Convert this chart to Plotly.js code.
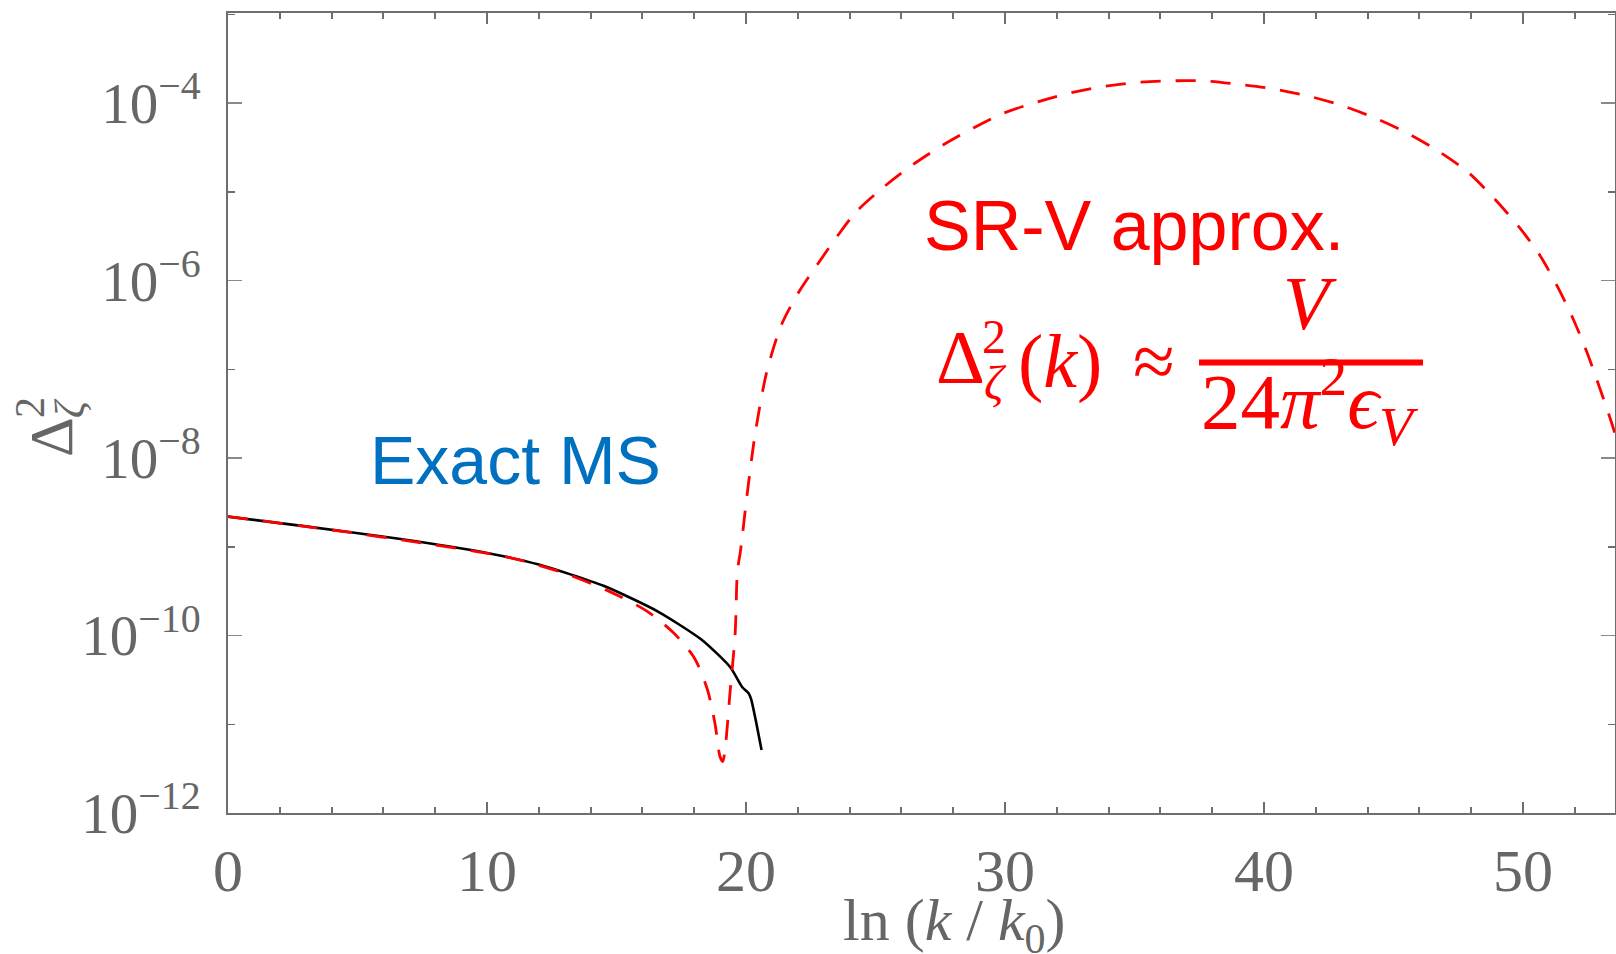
<!DOCTYPE html>
<html><head><meta charset="utf-8">
<script src="https://cdn.plot.ly/plotly-3.0.1.min.js"></script>
<style>html,body{margin:0;padding:0;background:#fff;}#chart{width:1616px;height:954px;}</style>
</head><body><div id="chart"></div>
<script>
// Exact Mukhanov-Sasaki result: ln(k/k0) and log10 of Delta_zeta^2
const lnK_exact = [0, 3, 6.6, 10, 12, 14.5, 16.6, 18.3, 19.4, 19.85, 20.1, 20.2, 20.4, 20.6];
const log10Delta_exact = [-8.66, -8.77, -8.91, -9.07, -9.20, -9.44, -9.73, -10.05, -10.36, -10.58, -10.65, -10.72, -10.99, -11.29];
// Slow-roll (V) approximation
const lnK_srv = [0, 4, 8, 11, 13, 14.7, 16.2, 17.2, 18.0, 18.5, 18.8, 19.0, 19.1, 19.2, 19.38, 19.58, 19.67, 19.79, 20.03, 20.35, 20.8, 21.38, 22.08, 22.73, 23.5, 24.27, 25.3, 26.46, 27.62, 28.78, 29.81, 30.99, 32.32, 33.65, 34.98, 36.31, 37.64, 39.04, 40.37, 41.7, 43.03, 44.29, 45.54, 46.72, 47.84, 48.9, 49.88, 50.66, 51.35, 51.93, 52.47, 52.9, 53.36, 53.59, 54.0];
const log10Delta_srv = [-8.66, -8.81, -8.98, -9.13, -9.30, -9.50, -9.73, -9.97, -10.25, -10.60, -10.99, -11.37, -11.42, -11.26, -10.65, -9.98, -9.27, -9.04, -8.44, -7.73, -7.03, -6.49, -6.11, -5.83, -5.51, -5.22, -4.95, -4.69, -4.47, -4.28, -4.13, -4.01, -3.90, -3.82, -3.77, -3.75, -3.75, -3.79, -3.84, -3.92, -4.03, -4.17, -4.34, -4.54, -4.77, -5.08, -5.41, -5.72, -6.08, -6.43, -6.81, -7.16, -7.55, -7.77, -8.30];

const xTickVals = [0, 10, 20, 30, 40, 50];
const yExponents = [-12, -10, -8, -6, -4];
const yMinorExponents = [-11, -9, -7, -5, -3];

const delta_exact = log10Delta_exact.map(v => Math.pow(10, v));
const delta_srv = log10Delta_srv.map(v => Math.pow(10, v));
const yTickVals = yExponents.map(e => Math.pow(10, e));
const yTickText = yExponents.map(e => '10<sup>\u2212' + Math.abs(e) + '</sup>');
const yMinorVals = yMinorExponents.map(e => Math.pow(10, e));

const L = 228, T = 13, W = 1387, H = 800;
const PX = x => (x - L) / W;
const PY = y => (T + H - y) / H;

const AX = '#6e6e6e';
const SERIF = 'Liberation Serif, DejaVu Serif, serif';
const SANS = 'Liberation Sans, Arial, sans-serif';
const RED = '#ff0000';

function ann(text, x, y, size, color, family, extra) {
  return Object.assign({
    text: text, xref: 'paper', yref: 'paper', x: PX(x), y: PY(y),
    xanchor: 'center', yanchor: 'middle', showarrow: false,
    font: {size: size, color: color, family: family}
  }, extra || {});
}

const traces = [
  {x: lnK_exact, y: delta_exact, mode: 'lines', type: 'scatter',
   line: {color: '#000000', width: 2.6, shape: 'spline', smoothing: 0.6}, hoverinfo: 'skip'},
  {x: lnK_srv, y: delta_srv, mode: 'lines', type: 'scatter',
   line: {color: RED, width: 2.8, dash: '20px,15px', shape: 'spline', smoothing: 0.8}, hoverinfo: 'skip'}
];

const layout = {
  width: 1616, height: 954,
  margin: {l: L, r: 1616 - L - W, t: T, b: 954 - T - H},
  paper_bgcolor: '#ffffff', plot_bgcolor: '#ffffff',
  showlegend: false,
  xaxis: {
    range: [0, 53.55], tickvals: xTickVals, ticks: 'inside', ticklen: 11, tickwidth: 2, tickcolor: AX,
    minor: {dtick: 2, ticks: 'inside', ticklen: 6, tickwidth: 2, tickcolor: AX},
    showline: true, linecolor: AX, linewidth: 2, mirror: 'ticks', showgrid: false, zeroline: false,
    tickfont: {family: SERIF, size: 60, color: '#666666'}, ticklabelstandoff: 4
  },
  yaxis: {
    type: 'log', range: [-12, -2.985], tickvals: yTickVals, ticktext: yTickText,
    ticks: 'inside', ticklen: 14, tickwidth: 1.5, tickcolor: '#8a8a8a',
    minor: {tickvals: yMinorVals, ticks: 'inside', ticklen: 7, tickwidth: 1.5, tickcolor: AX},
    showline: true, linecolor: AX, linewidth: 2, mirror: 'ticks', showgrid: false, zeroline: false,
    tickfont: {family: SERIF, size: 57, color: '#666666'}, ticklabelstandoff: 14
  },
  shapes: [
    {type: 'line', xref: 'paper', yref: 'paper', x0: PX(1199), x1: PX(1423), y0: PY(362.5), y1: PY(362.5),
     line: {color: RED, width: 6}}
  ],
  annotations: [
    ann('ln (<i>k</i> / <i>k</i><sub>0</sub>)', 954, 924, 60, '#666666', SERIF),
    ann('\u0394', 51, 437, 62, '#666666', SERIF, {textangle: -90}),
    ann('2', 30, 408, 42, '#666666', SERIF, {textangle: -90}),
    ann('<i>\u03b6</i>', 70, 408, 42, '#666666', SERIF, {textangle: -90}),
    ann('Exact MS', 515, 460, 68, '#0070c0', SANS),
    ann('SR-V approx.', 1134, 226, 70, RED, SANS),
    ann('\u0394', 960, 357, 76, RED, SERIF),
    ann('2', 994, 336, 48, RED, SERIF),
    ann('<i>\u03b6</i>', 995, 382, 48, RED, SERIF),
    ann('(<i>k</i>)', 1060, 361, 76, RED, SERIF),
    ann('\u2248', 1154, 361, 76, RED, SERIF),
    ann('<i>V</i>', 1310, 303, 76, RED, SERIF),
    ann('24<i>\u03c0</i><sup>2</sup><i>\u03f5</i><sub><i>V</i></sub>', 1310, 401, 79, RED, SERIF)
  ]
};

Plotly.newPlot('chart', traces, layout, {staticPlot: true, displayModeBar: false});
</script>
</body></html>
